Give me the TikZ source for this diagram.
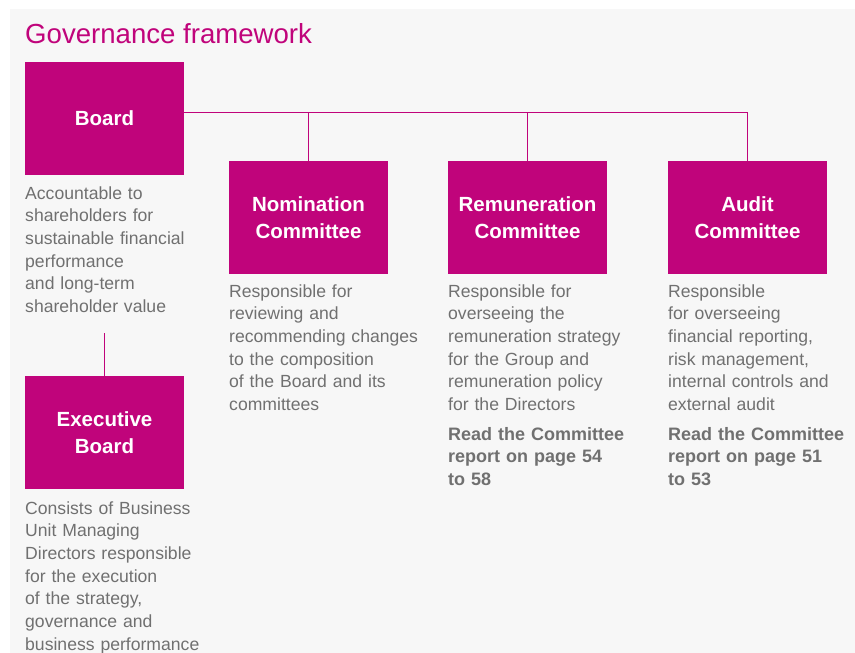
\documentclass[tikz,border=0pt]{standalone}
\usepackage{fontspec}
\setmainfont{Liberation Sans}
\begin{document}
\definecolor{brand}{HTML}{C0047B}
\definecolor{panel}{HTML}{F7F7F7}
\definecolor{bodygray}{HTML}{707070}
\begin{tikzpicture}[x=1pt,y=-1pt,
  unitbox/.style={fill=brand, text=white, minimum width=159pt, minimum height=113pt,
    inner sep=0pt, align=center,
    font=\fontsize{20.5}{26.8}\selectfont\bfseries},
  desc/.style={anchor=base west, inner sep=0pt, text width=230pt, align=left,
    text=bodygray, font=\fontsize{17.6}{22.7}\selectfont},
  readmore/.style={desc, font=\fontsize{18}{22.7}\selectfont\bfseries},
  link/.style={draw=brand, line width=1pt}]
  \useasboundingbox (0,0) rectangle (855,653);
  \fill[panel] (10,9) rectangle (855,653);

  % heading
  \node[anchor=base west, inner sep=0pt, text=brand, font=\fontsize{27.6}{30}\selectfont]
    (title) at (25,43.5) {Governance framework};

  % boxes
  \node[unitbox] (board) at (104.5,118.5) {Board};
  \node[unitbox] (exec)  at (104.5,432.5) {Executive\\Board};
  \node[unitbox] (nom)   at (308.5,217.5) {Nomination\\Committee};
  \node[unitbox] (rem)   at (527.5,217.5) {Remuneration\\Committee};
  \node[unitbox] (audit) at (747.5,217.5) {Audit\\Committee};

  % descriptions
  \node[desc] (boardtxt) at (25,199) {Accountable to\\shareholders for\\sustainable financial\\performance\\and long-term\\shareholder value};
  \node[desc] (exectxt) at (25,514) {Consists of Business\\Unit Managing\\Directors responsible\\for the execution\\of the strategy,\\governance and\\business performance};
  \node[desc] (nomtxt) at (229,297) {Responsible for\\reviewing and\\recommending changes\\to the composition\\of the Board and its\\committees};
  \node[desc] (remtxt) at (448,297) {Responsible for\\overseeing the\\remuneration strategy\\for the Group and\\remuneration policy\\for the Directors};
  \node[desc] (audtxt) at (668,297) {Responsible\\for overseeing\\financial reporting,\\risk management,\\internal controls and\\external audit};
  \node[readmore] (remread) at (448,440) {Read the Committee\\report on page 54\\to 58};
  \node[readmore] (audread) at (668,440) {Read the Committee\\report on page 51\\to 53};

  % connectors
  \coordinate (busL) at (184,112);
  \coordinate (busR) at (747.5,112);
  \coordinate (boardfoot) at (104.5,333);
  \draw[link] (busL) -- (busR) -- (audit.north);
  \draw[link] (nom.north |- busL) -- (nom.north);
  \draw[link] (rem.north |- busL) -- (rem.north);
  \draw[link] (boardfoot) -- (exec.north);
\end{tikzpicture}
\end{document}
